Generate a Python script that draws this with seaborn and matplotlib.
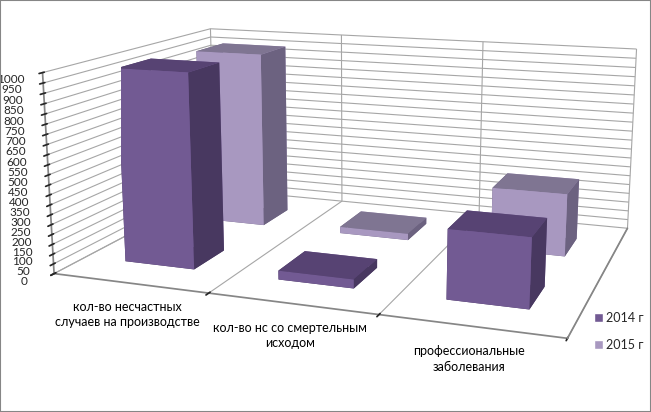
import numpy as np
import pandas as pd
import seaborn as sns
import matplotlib
matplotlib.use("Agg")
import matplotlib.pyplot as plt
from matplotlib.patches import Patch, Rectangle

categories = ["кол-во несчастных\nслучаев на производстве",
              "кол-во нс со смертельным\nисходом",
              "профессиональные\nзаболевания"]
series = ["2014 г", "2015 г"]
values_2014 = [990, 45, 340]
values_2015 = [960, 35, 330]
z_ticks = list(range(0, 1001, 50))

sns.set_theme(style="white")
plt.rcParams['font.family'] = ['Lato', 'DejaVu Sans']

df = pd.DataFrame({"category": categories * 2,
                   "series": [series[0]] * 3 + [series[1]] * 3,
                   "value": values_2014 + values_2015})

face_cols = {
    series[0]: {"front": "#725a93", "top": "#574373", "side": "#483860"},
    series[1]: {"front": "#a898c0", "top": "#7f7592", "side": "#6c6280"},
}

fig = plt.figure(figsize=(6.51, 4.12), dpi=100)
ax = fig.add_axes([0.04, 0.045, 1.0, 1.12], projection='3d', proj_type='persp', focal_length=0.5)

bw, bd = 0.46, 0.4
for si, s in enumerate(series):
    sub = df[df.series == s]
    for ci, v in enumerate(sub.value):
        c = face_cols[s]
        # order: bottom, top, -y (front), +y, -x, +x
        colors = [c["side"], c["top"], c["front"], c["front"], c["side"], c["side"]]
        ax.bar3d(ci - bw / 2, si - bd / 2, 0, bw, bd, v, color=colors, shade=False,
                 edgecolor='none')

ax.set_xlim(-0.5, 2.5)
ax.set_ylim(-0.55, 1.55)
ax.set_zlim(0, 1000)
ax.set_xticks([-0.5, 0.5, 1.5, 2.5])
ax.set_xticklabels([])
ax.set_yticks([])
ax.set_zticks(z_ticks)
ax.set_zticklabels([str(t) for t in z_ticks], fontsize=8.5)
ax.zaxis.set_ticks_position('lower')
ax.tick_params(axis='z', pad=0)

for axis in (ax.xaxis, ax.yaxis, ax.zaxis):
    axis.set_pane_color((1, 1, 1, 1))
    axis._axinfo['grid']['color'] = '#a6a6a6'
    axis._axinfo['grid']['linewidth'] = 0.8
    axis.line.set_color('#868686')
ax.yaxis._axinfo['grid']['color'] = (1, 1, 1, 0)

ax.set_box_aspect((3.3, 2.3, 1.3), zoom=1.33)
ax.view_init(elev=13, azim=-70)

for ci, cat in enumerate(categories):
    ax.text(ci, -0.58, -80, cat, ha='center', va='top', fontsize=9, color='#000000',
            linespacing=1.35)

handles = [Patch(facecolor=face_cols[s]["front"], label=s) for s in series]
fig.legend(handles=handles, loc='center left', bbox_to_anchor=(0.895, 0.195),
           frameon=False, fontsize=9, handlelength=0.7, handleheight=0.7,
           labelspacing=1.2, handletextpad=0.3)

fig.add_artist(Rectangle((0, 0), 1, 1, transform=fig.transFigure, fill=False,
                         edgecolor='#868686', linewidth=1.5))
fig.savefig("out.png", dpi=100)
